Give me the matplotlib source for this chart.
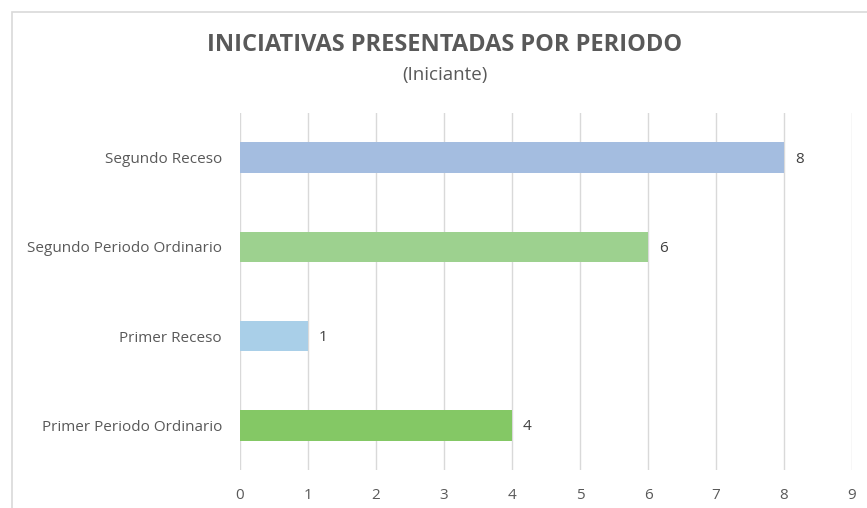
import matplotlib
matplotlib.use("Agg")
import matplotlib.pyplot as plt
from matplotlib.patches import Rectangle

categories = ["Primer Periodo Ordinario", "Primer Receso", "Segundo Periodo Ordinario", "Segundo Receso"]
values = [4, 1, 6, 8]
colors = ["#84C865", "#A9CFE8", "#9DD18F", "#A4BDE0"]
xticks = list(range(0, 10))

plt.rcParams['font.family'] = ['Open Sans', 'DejaVu Sans']
text_color = "#595959"

fig = plt.figure(figsize=(8.67, 5.08), dpi=100)
fig.patches.append(Rectangle((12/867, -0.1), 1.2, 1 - 12/508 + 0.1, transform=fig.transFigure,
                             fill=False, edgecolor="#D9D9D9", linewidth=1.2))
ax = fig.add_axes([240/867, 1 - 470/508, (852 - 240)/867, (470 - 113)/508])

ypos = range(len(categories))
ax.barh(ypos, values, height=0.34, color=colors, zorder=3)
ax.set_xlim(0, 9)
ax.set_ylim(-0.5, len(categories) - 0.5)
ax.set_xticks(xticks)
ax.set_yticks(list(ypos))
ax.set_yticklabels(categories)
ax.grid(axis="x", color="#D9D9D9", linewidth=1, zorder=0)
for s in ax.spines.values():
    s.set_visible(False)
ax.tick_params(axis="both", length=0, colors=text_color, labelsize=11)
ax.tick_params(axis="y", pad=13)
ax.tick_params(axis="x", pad=13)
for y, v in zip(ypos, values):
    ax.annotate(str(v), (v, y), xytext=(8, -1), textcoords="offset points",
                va="center", ha="left", color="#404040", fontsize=11)

fig.text(445/867, 1 - 45/508, "INICIATIVAS PRESENTADAS POR PERIODO", ha="center", va="center",
         fontsize=17, fontweight="bold", color=text_color)
fig.text(445/867, 1 - 75/508, "(Iniciante)", ha="center", va="center",
         fontsize=13.5, color=text_color)

fig.savefig("out.png", dpi=100)
